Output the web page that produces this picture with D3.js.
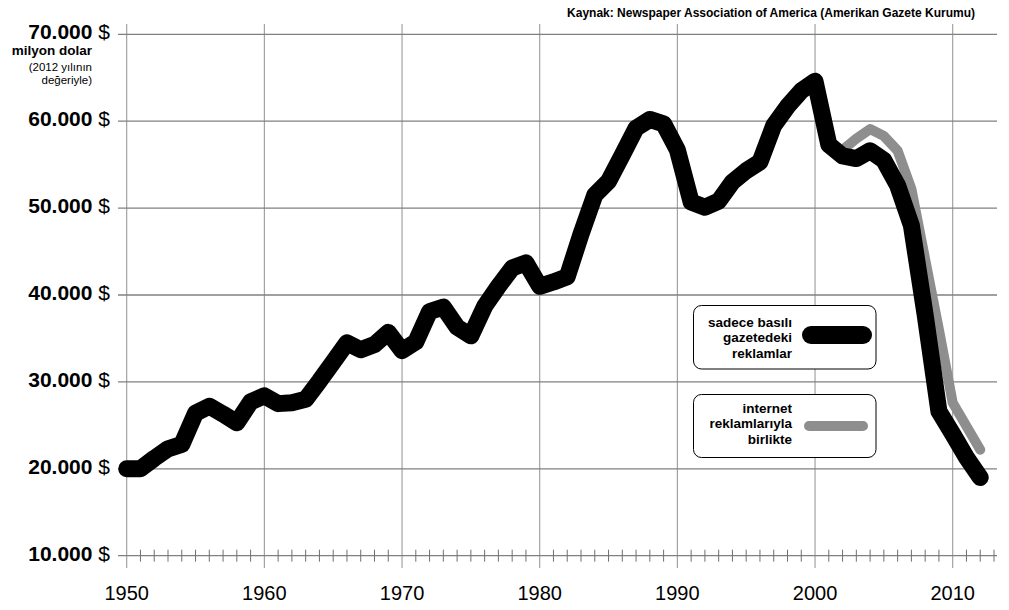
<!DOCTYPE html>
<html>
<head>
<meta charset="utf-8">
<script src="https://cdn.jsdelivr.net/npm/d3@7"></script>
<style>
  html, body { margin: 0; padding: 0; background: #fff; }
  svg { display: block; font-family: "Liberation Sans", Arial, Helvetica, sans-serif; }
</style>
</head>
<body>
<svg id="chart" width="1009" height="610"></svg>
<script>
// ---- DATA ----
const years = d3.range(1950, 2013);
const printAds = [
  20000, 20000, 21200, 22300, 22800, 26400, 27200, 26300, 25300, 27700,
  28400, 27500, 27600, 28000, 30100, 32300, 34500, 33700, 34300, 35700,
  33600, 34600, 38100, 38600, 36300, 35300, 38700, 41000, 43100, 43700,
  41000, 41500, 42100, 47000, 51500, 53100, 56100, 59200, 60200, 59700,
  56700, 50700, 50100, 50800, 53000, 54300, 55300, 59500, 61700, 63500,
  64600, 57300, 56000, 55700, 56600, 55500, 52600, 48000, 37700, 26600,
  24000, 21300, 19000
];
const onlineYears = [2001, 2002, 2003, 2004, 2005, 2006, 2007, 2008, 2009, 2010, 2011, 2012];
const withOnline = [57300, 56700, 58000, 59100, 58300, 56600, 52200, 44100, 36000, 27600, 24900, 22200];
const yTicks = [10000, 20000, 30000, 40000, 50000, 60000, 70000];
const xDecades = [1950, 1960, 1970, 1980, 1990, 2000, 2010];
const minorYears = d3.range(1951, 2014).filter(y => y % 10 !== 0);
const sourceText = "Kaynak: Newspaper Association of America (Amerikan Gazete Kurumu)";
const unitLines = ["milyon dolar", "(2012 yılının", "değeriyle)"];
const legend1 = ["sadece basılı", "gazetedeki", "reklamlar"];
const legend2 = ["internet", "reklamlarıyla", "birlikte"];

// ---- SCALES ----
const x = d3.scaleLinear().domain([1950, 2010]).range([126.7, 952.7]);
const y = d3.scaleLinear().domain([10000, 70000]).range([555.7, 34.3]);
const loc = d3.formatLocale({decimal: ",", thousands: ".", grouping: [3], currency: ["", " $"]});
const fmt = loc.format(",d");

const svg = d3.select("#chart");
svg.append("rect").attr("width", 1009).attr("height", 610).attr("fill", "#fff");

const xLeft = 118, xRight = 997;

// vertical decade gridlines
svg.append("g").selectAll("line").data(xDecades).join("line")
  .attr("x1", d => x(d)).attr("x2", d => x(d))
  .attr("y1", 24).attr("y2", 568)
  .attr("stroke", "#9a9a9a").attr("stroke-width", 1.1);

// horizontal gridlines
svg.append("g").selectAll("line").data(yTicks).join("line")
  .attr("x1", xLeft).attr("x2", xRight)
  .attr("y1", d => y(d)).attr("y2", d => y(d))
  .attr("stroke", "#808080").attr("stroke-width", 1.3);

// minor year ticks on baseline
svg.append("g").selectAll("line").data(minorYears).join("line")
  .attr("x1", d => x(d)).attr("x2", d => x(d))
  .attr("y1", y(10000) - 6).attr("y2", y(10000) + 6)
  .attr("stroke", "#707070").attr("stroke-width", 1);

// y labels
const yl = svg.append("g").selectAll("text").data(yTicks).join("text")
  .attr("x", 110).attr("y", d => y(d) + 5)
  .attr("text-anchor", "end").attr("font-size", 21).attr("fill", "#000");
yl.append("tspan").attr("font-weight", "bold").text(d => fmt(d));
yl.append("tspan").attr("font-weight", "normal").text(" $");

// unit note
svg.append("text").attr("x", 92).attr("y", 55).attr("text-anchor", "end")
  .attr("font-size", 13.5).attr("font-weight", "bold").text(unitLines[0]);
svg.append("text").attr("x", 92).attr("y", 70.5).attr("text-anchor", "end")
  .attr("font-size", 11.5).text(unitLines[1]);
svg.append("text").attr("x", 92).attr("y", 83.5).attr("text-anchor", "end")
  .attr("font-size", 11.5).text(unitLines[2]);

// x labels
svg.append("g").selectAll("text").data(xDecades).join("text")
  .attr("x", d => x(d)).attr("y", 600)
  .attr("text-anchor", "middle").attr("font-size", 20).text(d => d);

// source
svg.append("text").attr("x", 975).attr("y", 16.5).attr("text-anchor", "end")
  .attr("font-size", 12).attr("font-weight", "bold").text(sourceText);

// lines
const line = d3.line().x(d => x(d[0])).y(d => y(d[1])).curve(d3.curveLinear);
svg.append("path").datum(onlineYears.map((yr, i) => [yr, withOnline[i]]))
  .attr("d", line).attr("fill", "none").attr("stroke", "#8e8e8e")
  .attr("stroke-width", 10).attr("stroke-linecap", "round").attr("stroke-linejoin", "round");
svg.append("path").datum(years.map((yr, i) => [yr, printAds[i]]))
  .attr("d", line).attr("fill", "none").attr("stroke", "#000")
  .attr("stroke-width", 17).attr("stroke-linecap", "round").attr("stroke-linejoin", "round");

// legends
function legendBox(top, h, lines, baselines, color, sw, ly, lx1, lx2) {
  const g = svg.append("g");
  g.append("rect").attr("x", 693.5).attr("y", top).attr("width", 182.5).attr("height", h)
    .attr("rx", 8).attr("ry", 8).attr("fill", "#fff").attr("stroke", "#000").attr("stroke-width", 1);
  g.selectAll("text").data(lines).join("text")
    .attr("x", 792).attr("y", (d, i) => baselines[i]).attr("text-anchor", "end")
    .attr("font-size", 13.5).attr("font-weight", "bold").text(d => d);
  g.append("line").attr("x1", lx1).attr("x2", lx2).attr("y1", ly).attr("y2", ly)
    .attr("stroke", color).attr("stroke-width", sw).attr("stroke-linecap", "round");
}
legendBox(305.5, 63.5, legend1, [326.5, 342, 357.5], "#000", 18, 335, 811, 863);
legendBox(394.5, 63, legend2, [412.7, 428.3, 444], "#8e8e8e", 10, 426, 809, 863);
</script>
</body>
</html>
